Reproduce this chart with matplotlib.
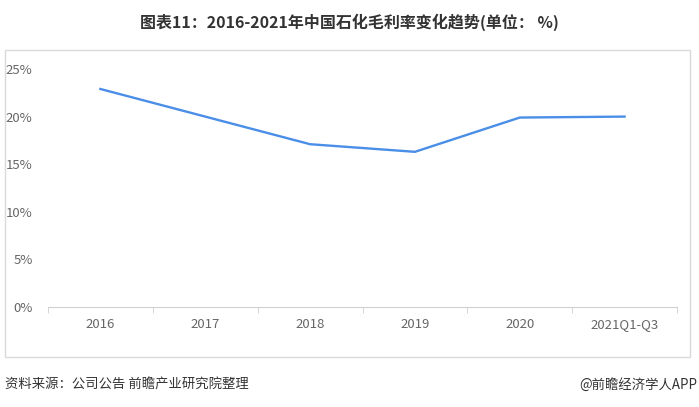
import matplotlib
matplotlib.use('Agg')
from matplotlib import pyplot as plt
from matplotlib.patches import Rectangle
import matplotlib.ticker as mticker

plt.rcParams['font.family'] = ['Noto Sans CJK SC', 'DejaVu Sans']

years = ['2016', '2017', '2018', '2019', '2020', '2021Q1-Q3']
margin = [22.9, 20.0, 17.1, 16.3, 19.9, 20.0]
title = '图表11：2016-2021年中国石化毛利率变化趋势(单位： %)'
source = '资料来源：公司公告 前瞻产业研究院整理'
brand = '@前瞻经济学人APP'

W, H = 699, 407
fig = plt.figure(figsize=(W / 100, H / 100), dpi=100)

# outer frame of the chart
fig.patches.append(Rectangle((5 / W, 1 - 357 / H), 685 / W, 307 / H, transform=fig.transFigure,
                             fill=False, edgecolor='#d9d9d9', linewidth=1))

ax = fig.add_axes([48 / W, 1 - 307 / H, 629 / W, 238 / H])
x = list(range(len(years)))
ax.plot(x, margin, color='#4a8ee7', linewidth=1.7)

ax.set_xlim(-0.5, len(years) - 0.5)
ax.set_ylim(0, 25)
ax.set_xticks(x)
ax.set_xticklabels(years)
ax.set_xticks([i - 0.5 for i in range(len(years) + 1)], minor=True)
ax.yaxis.set_major_locator(mticker.MultipleLocator(5))
ax.yaxis.set_major_formatter(mticker.FuncFormatter(lambda v, p: f'{v:.0f}%'))

for s in ('top', 'right', 'left'):
    ax.spines[s].set_visible(False)
ax.spines['bottom'].set_color('#d0d0d0')
ax.tick_params(axis='x', which='major', length=0, pad=8, labelsize=9.5, labelcolor='#666666')
ax.tick_params(axis='x', which='minor', length=4, color='#d0d0d0', direction='out')
ax.tick_params(axis='y', length=0, pad=11, labelsize=9.5, labelcolor='#666666')

fig.text(0.5, 1 - 22 / H, title, ha='center', va='center', fontsize=11.5, fontweight='bold', color='#333333')
fig.text(5 / W, 1 - 385 / H, source, ha='left', va='center', fontsize=9.6, color='#333333')
fig.text(697 / W, 1 - 385 / H, brand, ha='right', va='center', fontsize=9.6, color='#333333')

fig.savefig('out.png', dpi=100)
